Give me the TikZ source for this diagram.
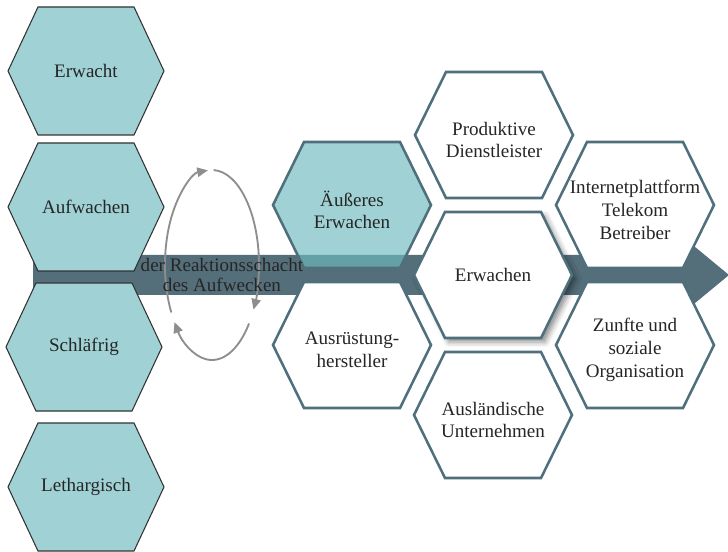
\documentclass[tikz,border=0pt]{standalone}
\usepackage{fontspec}
\setmainfont{Liberation Serif}
\usepackage{tikz}
\usetikzlibrary{calc, arrows.meta, shadows.blur}
\definecolor{bandslate}{HTML}{546E7A}
\definecolor{hexedge}{HTML}{4F6F7C}
\definecolor{hexteal}{HTML}{A0D2D5}
\definecolor{outerteal}{HTML}{6FBBBF}
\definecolor{loopgray}{HTML}{8E8E8E}

\begin{document}
\begin{tikzpicture}[x=0.75pt, y=-0.75pt,
        lefthex/.style={fill=hexteal, draw=black!80, line width=0.8pt},
        righthex/.style={fill=white, draw=hexedge, line width=1.9pt},
        celltext/.style={align=center, text=black!85, font=\rmfamily\fontsize{14.3}{17}\selectfont, inner sep=0pt},
        looparrow/.style={draw=loopgray, line width=1.4pt, -{Triangle[length=8pt, width=7pt]}}]
        \useasboundingbox (0,0) rectangle (728,552);

        \fill[bandslate] (33,255) -- (683,255) -- (683,237) -- (729,275) -- (683,313) -- (683,295) -- (33,295) -- cycle;

        \foreach \cx/\cy/\nm/\txt in {86/71/erwacht/Erwacht, 86/207/aufwachen/Aufwachen, 84/347/schlaefrig/Schläfrig, 86/487/lethargisch/Lethargisch}{
            \draw[lefthex, shift={(\cx,\cy)}] (-78,0) -- (-48,-64) -- (48,-64) -- (78,0) -- (48,64) -- (-48,64) -- cycle;
            \node[celltext] (\nm) at (\cx,\cy) {\txt};
        }

        \coordinate (loopc) at (212,265);
        \draw[looparrow] ($(loopc)+(150:47 and 95)$) arc[start angle=150, end angle=265, x radius=47, y radius=95];
        \draw[looparrow] ($(loopc)+(272:47 and 95)$) arc[start angle=272, end angle=388, x radius=47, y radius=95];
        \draw[looparrow] ($(loopc)+(38:47 and 95)$) arc[start angle=38, end angle=143, x radius=47, y radius=95];

        \draw[righthex, fill=outerteal, fill opacity=0.66, shift={(352,205)}] (-79,0) -- (-48,-63) -- (48,-63) -- (79,0) -- (48,63) -- (-48,63) -- cycle;
        \node[celltext] (aeusseres) at (352,210) {Äußeres\\Erwachen};

        \foreach \cx/\cy/\nm/\txt in {352/345/ausruestung/{Ausrüstung-\\hersteller}, 494/135/produktiv/{Produktive\\Dienstleister}, 493/415/auslaendisch/{Ausländische\\Unternehmen}, 635/205/internet/{Internetplattform\\Telekom\\Betreiber}, 635/345/zunfte/{Zunfte und\\soziale\\Organisation}}{
            \draw[righthex, shift={(\cx,\cy)}] (-79,0) -- (-48,-63) -- (48,-63) -- (79,0) -- (48,63) -- (-48,63) -- cycle;
            \node[celltext] (\nm) at (\cx,\cy+5) {\txt};
        }

        \draw[righthex, blur shadow={shadow xshift=3pt, shadow yshift=-3pt, shadow opacity=45, shadow blur radius=4pt}, shift={(493,275)}] (-79,0) -- (-48,-63) -- (48,-63) -- (79,0) -- (48,63) -- (-48,63) -- cycle;
        \node[celltext] (erwachen) at (493,275) {Erwachen};

        \node[celltext, font=\rmfamily\fontsize{14.3}{15}\selectfont] (schacht) at (222,275) {der Reaktionsschacht\\des Aufwecken};
    \end{tikzpicture}
\end{document}
